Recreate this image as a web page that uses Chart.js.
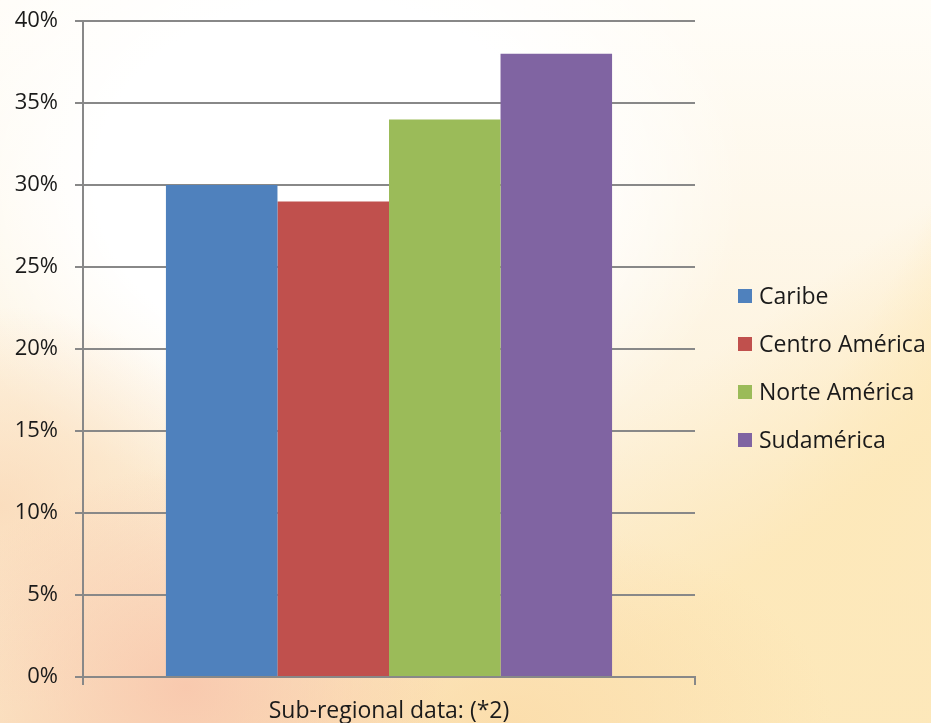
<!DOCTYPE html>
<html>
<head>
<meta charset="utf-8">
<script src="https://cdn.jsdelivr.net/npm/chart.js@4/dist/chart.umd.min.js"></script>
<style>
  html, body { margin: 0; padding: 0; }
  body {
    width: 931px; height: 723px; position: relative; overflow: hidden;
    background:
      radial-gradient(ellipse 260px 220px at 20% 95%, rgba(248,196,170,0.85), rgba(248,196,170,0) 100%),
      radial-gradient(ellipse 240px 200px at 0% 70%, rgba(250,214,180,0.7), rgba(250,214,180,0) 100%),
      radial-gradient(ellipse 320px 200px at 55% 100%, rgba(251,220,170,0.85), rgba(251,220,170,0) 100%),
      linear-gradient(145deg, rgba(255,255,255,0) 62%, rgba(253,232,185,0.9) 80%),
      linear-gradient(120deg, rgba(255,255,255,0) 78%, rgba(253,236,195,0.8) 86%, rgba(255,255,255,0) 94%),
      radial-gradient(ellipse 420px 330px at 35% 25%, #ffffff 55%, rgba(255,255,255,0) 100%),
      linear-gradient(180deg, #fffdf8 0%, #fdf2dc 60%, #fbe6c4 100%);
  }
  canvas { position: absolute; left: 0; top: 0; }
  #legend { position: absolute; left: 738px; top: 280px; font-family: "Open Sans", sans-serif; font-size: 23px; color: #1a1a1a; }
  .item { position: relative; height: 48px; line-height: 30px; padding-left: 21px; white-space: nowrap; }
  .sw { position: absolute; left: 0; top: 9px; width: 14px; height: 14px; }
</style>
</head>
<body>
<canvas id="c" width="931" height="723"></canvas>
<div id="legend"></div>
<script>
const categories = ["Sub-regional data: (*2)"];
const seriesNames = ["Caribe", "Centro América", "Norte América", "Sudamérica"];
const seriesValues = [[30], [29], [34], [38]];
const seriesColors = ["#4F81BD", "#C0504D", "#9BBB59", "#8064A2"];
const yTicks = [0, 5, 10, 15, 20, 25, 30, 35, 40];

const FONT = "'Open Sans', sans-serif";
const datasets = seriesNames.map((n, i) => ({
  label: n,
  data: seriesValues[i],
  backgroundColor: seriesColors[i],
  borderWidth: 0,
  categoryPercentage: 0.729,
  barPercentage: 1.0
}));

new Chart(document.getElementById('c'), {
  type: 'bar',
  data: { labels: categories, datasets },
  options: {
    responsive: false,
    animation: false,
    devicePixelRatio: 1,
    layout: { padding: { left: 0, top: 21, right: 236, bottom: 0 } },
    plugins: { legend: { display: false }, tooltip: { enabled: false } },
    scales: {
      x: {
        offset: true,
        grid: { offset: true, drawOnChartArea: false, drawTicks: true, tickLength: 8, color: '#888888', lineWidth: 2 },
        border: { display: true, color: '#888888', width: 2 },
        ticks: { color: '#1a1a1a', font: { family: FONT, size: 23 }, padding: 13 },
        afterFit: s => { s.height = 46; s.paddingLeft = 0; s.paddingRight = 0; }
      },
      y: {
        min: 0, max: 40,
        afterBuildTicks: s => { s.ticks = yTicks.map(v => ({ value: v })); },
        ticks: { callback: v => v + '%', color: '#1a1a1a', font: { family: FONT, size: 22 }, padding: 17 },
        grid: { color: '#888888', lineWidth: 2, tickLength: 8 },
        border: { display: true, color: '#888888', width: 2 },
        afterFit: s => { s.width = 83; s.paddingTop = 0; s.paddingBottom = 0; }
      }
    }
  }
});

const lg = document.getElementById('legend');
seriesNames.forEach((n, i) => {
  const d = document.createElement('div');
  d.className = 'item';
  d.innerHTML = '<span class="sw" style="background:' + seriesColors[i] + '"></span>' + n;
  lg.appendChild(d);
});
</script>
</body>
</html>
